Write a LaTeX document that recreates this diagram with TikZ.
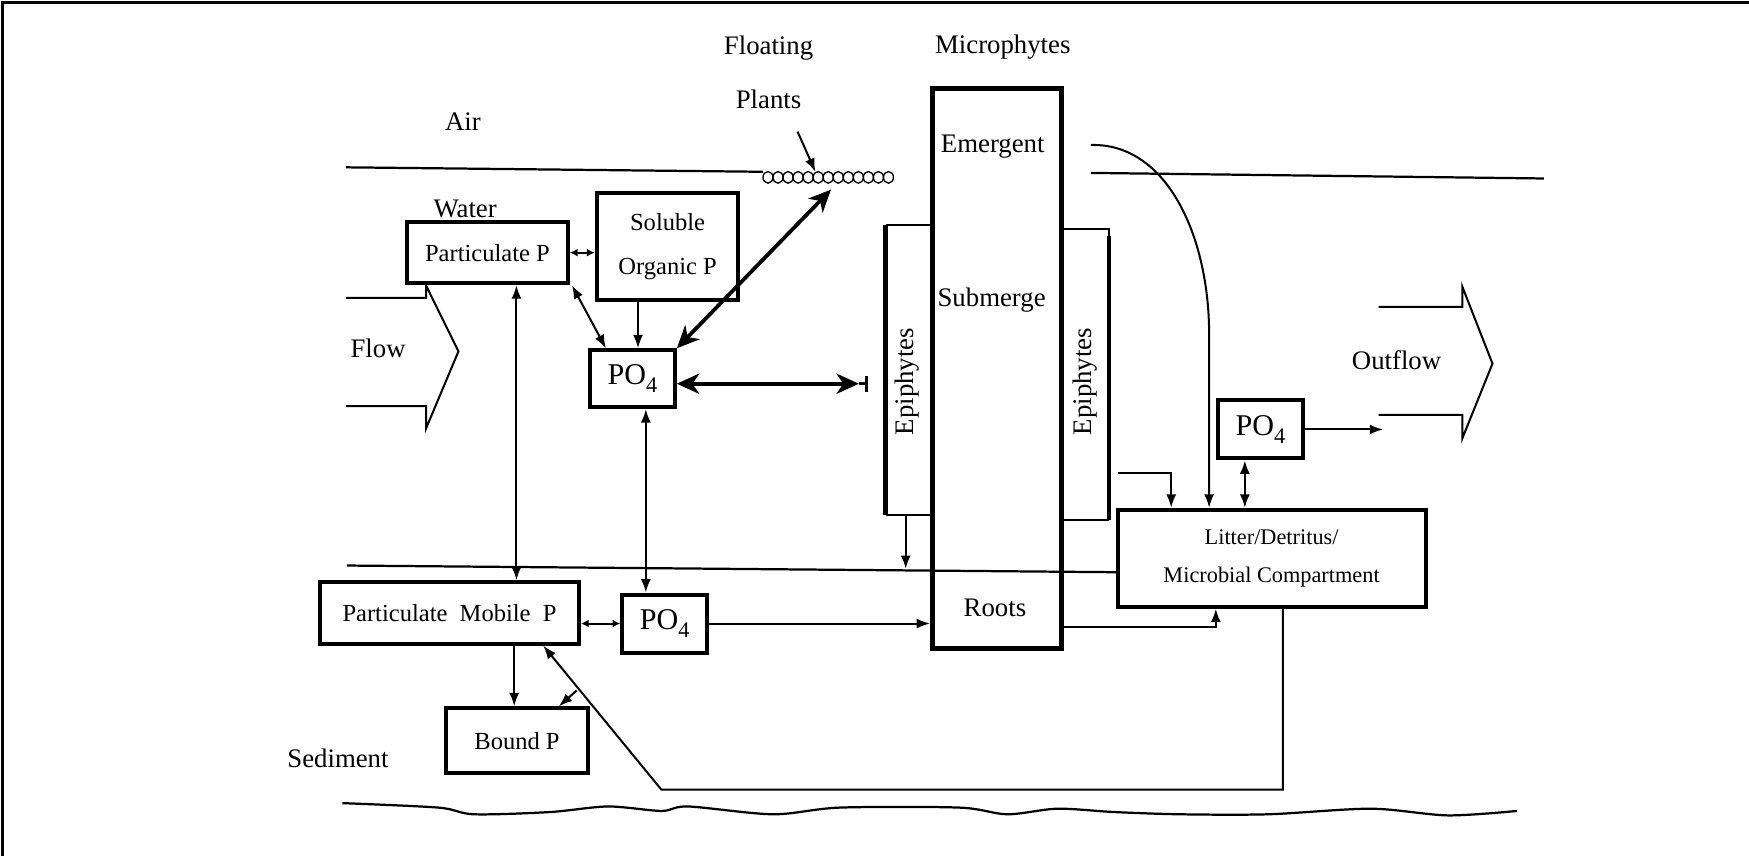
\documentclass[tikz,border=0pt]{standalone}
\usepackage{fontspec}
\setmainfont{Liberation Serif}
\usetikzlibrary{arrows.meta,calc}
\newcommand{\pofour}{{\fontsize{13.5}{15}\selectfont PO\raisebox{-0.55ex}{\fontsize{10}{10}\selectfont 4}}}
\begin{document}
\begin{tikzpicture}[x=0.5pt,y=-0.5pt,
  box/.style={draw,line width=1.8pt,inner sep=0pt,align=center,font=\fontsize{11}{13}\selectfont},
  lbl/.style={inner sep=0pt,font=\fontsize{12}{14}\selectfont},
  ln/.style={line width=0.9pt},
  thk/.style={line width=2pt},
  arr/.style={ln,-{Latex[length=6pt,width=4.5pt]}},
  darr/.style={ln,{Latex[length=6pt,width=4.5pt]}-{Latex[length=6pt,width=4.5pt]}},
  sarr/.style={ln,{Latex[length=3.5pt,width=3.5pt]}-{Latex[length=3.5pt,width=3.5pt]}},
  tarr/.style={line width=1.7pt,{Stealth[length=10pt,width=9pt,inset=3pt]}-{Stealth[length=10pt,width=9pt,inset=3pt]}},
  wline/.style={line width=1pt},
]
\useasboundingbox (0,0) rectangle (1568,767);
% frame (top and left only)
\draw[line width=1.2pt] (2,767) -- (2,2) -- (1568,2);

% water surface, sediment surface, bottom
\draw[wline] (310,150) -- (684,154);
\foreach \i in {0,...,12} \draw[line width=0.6pt] (688.5+9*\i,159) circle[x radius=2.25pt,y radius=2.6pt];
\draw[wline] (978,155) -- (1384,160);
\draw[wline] (311,507) -- (1002,513);
\draw[wline] plot[smooth] coordinates {(307,720) (393,724) (425,730) (493,728) (545,723) (593,727) (617,723) (693,730) (753,724) (860,724) (903,730) (948,725) (999,728) (1058,730) (1137,730) (1229,725) (1298,731) (1360,727)};

% boxes
\node[box,minimum width=72pt,minimum height=27.5pt] (pp) at (437,226.5) {Particulate P};
\node[box,minimum width=63.5pt,minimum height=48pt,font=\fontsize{11}{20}\selectfont] (sop) at (598.5,221) {Soluble\\Organic P};
\node[box,minimum width=38pt,minimum height=25.5pt] (pw) at (567,339.5) {\pofour};
\node[box,line width=2.2pt,minimum width=58pt,minimum height=251pt] (mac) at (894,330) {};
\node[box,minimum width=38pt,minimum height=26pt] (po) at (1130,385) {\pofour};
\node[box,minimum width=138pt,minimum height=43.5pt,font=\fontsize{10}{17}\selectfont] (lit) at (1140,500.5) {Litter/Detritus/\\Microbial Compartment};
\node[box,minimum width=116pt,minimum height=27.5pt] (pmp) at (403,549.5) {Particulate\ \ Mobile\ \ P};
\node[box,minimum width=38pt,minimum height=26pt] (ps) at (596,559) {\pofour};
\node[box,minimum width=63.5pt,minimum height=29pt] (bp) at (463.5,664) {Bound P};

% epiphyte compartments
\draw[thk] (794,202) -- (794,462);
\draw[ln] (794,202) -- (836,202);
\draw[ln] (794,462) -- (836,462);
\draw[ln] (952,205) -- (994,205) -- (994,212);
\draw[thk] (994,212) -- (994,466);
\draw[ln] (952,466) -- (994,466);

% labels
\node[lbl] (tfl) at (689,43) {Floating};
\node[lbl] (tpl) at (689,89) {Plants};
\node[lbl] (tmi) at (899,42) {Microphytes};
\node[lbl] (tair) at (415,109) {Air};
\node[lbl] (twa) at (417,187) {Water};
\node[lbl] (tflow) at (339,312) {Flow};
\node[lbl] (tout) at (1252,323) {Outflow};
\node[lbl] (tsed) at (303,680) {Sediment};
\node[lbl] (tem) at (890,131) {Emergent};
\node[lbl] (tsub) at (889,269) {Submerge};
\node[lbl] (troot) at (892,545) {Roots};
\node[lbl,rotate=90] (tepl) at (813,342) {Epiphytes};
\node[lbl,rotate=90] (tepr) at (973,342) {Epiphytes};

% flow arrows (outlines)
\draw[ln] (310,267) -- (382,267) -- (382,256) -- (411,315) -- (382,384) -- (382,364) -- (310,364);
\draw[ln] (1236,275) -- (1311,275) -- (1311,257) -- (1338,326) -- (1311,393) -- (1311,372) -- (1236,372);

% coordinates for free ends
\coordinate (fa) at (715,118);
\coordinate (fb) at (731,154);
\coordinate (fp) at (745,170);
\coordinate (ep1) at (770,344);
\coordinate (tk) at (777,344);
\coordinate (v1) at (463,0);
\coordinate (v2) at (579,0);
\coordinate (v3) at (461,0);
\coordinate (e1) at (812,462);
\coordinate (e2) at (812,510);
\coordinate (c0) at (978,130);
\coordinate (c1) at (1084,300);
\coordinate (r0) at (1002,424);
\coordinate (r1) at (1050,424);
\coordinate (q) at (1116,0);
\coordinate (po2) at (1240,385);
\coordinate (rt) at (1090,562);
\coordinate (lb) at (1150,708);
\coordinate (lc) at (593,708);
\coordinate (pe) at (487,0);
\coordinate (br) at (517,619);
\coordinate (bq) at (501,0);

% connectors
\draw[sarr] (pp.east) -- (pp.east -| sop.west);
\draw[arr] ([xshift=2.5pt]sop.south -| pw.north) -- ([xshift=2.5pt]pw.north);
\draw[darr] ([xshift=1pt]pp.south east) -- ([xshift=8pt]pw.north west);
\draw[arr] (fa) -- (fb);
\draw[tarr] (pw.north east) -- (fp);
\draw[tarr] (pw.east |- ep1) -- (ep1);
\draw[line width=1.5pt] (ep1) -- (tk);
\draw[line width=1.5pt] ([yshift=3.5pt]tk) -- ([yshift=-3.5pt]tk);
\draw[darr] (pp.south -| v1) -- (pmp.north -| v1);
\draw[darr] (pw.south -| v2) -- (ps.north -| v2);
\draw[sarr] (pmp.east |- ps.west) -- (ps.west);
\draw[arr] (ps.east) -- (ps.east -| mac.west);
\draw[arr] (e1) -- (e2);
\draw[arr] (c0) .. controls (1045,128) and (1084,210) .. (c1) -- (lit.north -| c1);
\draw[arr] (r0) -- (r1) -- (lit.north -| r1);
\draw[darr] (po.south -| q) -- (lit.north -| q);
\draw[arr] (po.east) -- (po2);
\draw[arr] (mac.east |- rt) -- (rt) -- (lit.south -| rt);
\draw[arr] (lit.south -| lb) -- (lb) -- (lc) -- (pmp.south -| pe);
\draw[arr] (br) -- (bp.north -| bq);
\draw[arr] (pmp.south -| v3) -- (bp.north -| v3);
\end{tikzpicture}
\end{document}
